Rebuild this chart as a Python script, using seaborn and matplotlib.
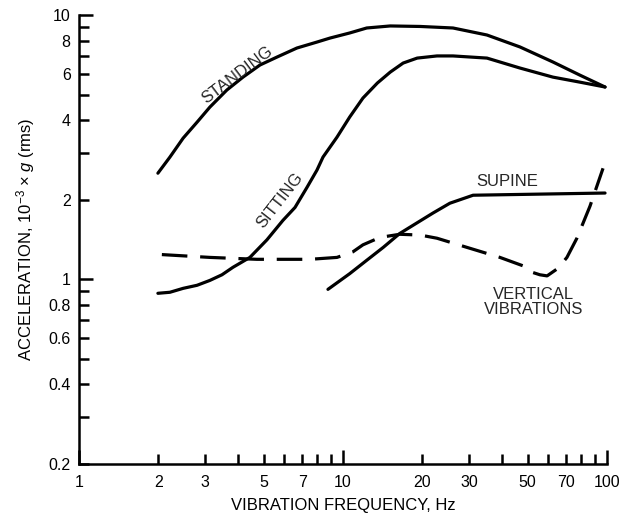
import seaborn as sns
import matplotlib.pyplot as plt
import matplotlib.ticker as mticker

# values (frequency in Hz, acceleration in 1e-3 g rms)
standing_hz = [1.99, 2.21, 2.48, 2.80, 3.13, 3.63, 4.18, 4.85, 5.62, 6.69, 7.97,
               8.93, 10.6, 12.3, 15.1, 19.6, 26.1, 35.1, 46.8, 62.4, 79.0, 98.3]
standing_acc = [2.52, 2.90, 3.42, 3.93, 4.48, 5.20, 5.82, 6.47, 6.93, 7.50, 7.90,
                8.18, 8.55, 8.93, 9.09, 9.05, 8.93, 8.40, 7.57, 6.64, 5.92, 5.34]

sitting_hz = [1.99, 2.21, 2.48, 2.80, 3.13, 3.48, 3.83, 4.44, 5.15, 5.92, 6.58,
              7.31, 7.97, 8.40, 9.49, 10.6, 11.9, 13.5, 15.1, 16.9, 19.1, 22.7,
              26.1, 35.1, 46.8, 62.4, 79.0, 98.3]
sitting_acc = [0.885, 0.893, 0.924, 0.949, 0.99, 1.04, 1.11, 1.21, 1.41, 1.67, 1.87,
               2.23, 2.59, 2.90, 3.45, 4.11, 4.85, 5.53, 6.08, 6.58, 6.87, 7.0,
               7.0, 6.87, 6.30, 5.82, 5.57, 5.34]

supine_hz = [8.77, 10.6, 12.3, 14.2, 16.4, 21.9, 25.4, 31.1, 98.3]
supine_acc = [0.916, 1.05, 1.18, 1.32, 1.49, 1.78, 1.94, 2.08, 2.12]

vertical_hz = [2.06, 3.13, 4.72, 7.50, 9.49, 10.9, 11.9, 13.8, 16.4, 19.6, 22.7,
               29.5, 39.3, 49.8, 52.5, 55.7, 59.3, 65.2, 70.5, 76.9, 86.2, 96.6]
vertical_acc = [1.24, 1.21, 1.19, 1.19, 1.21, 1.27, 1.35, 1.44, 1.48, 1.47, 1.43,
                1.32, 1.21, 1.11, 1.06, 1.04, 1.03, 1.10, 1.21, 1.43, 1.89, 2.63]

x_labeled = [1, 2, 3, 5, 7, 10, 20, 30, 50, 70, 100]
y_labeled = [0.2, 0.4, 0.6, 0.8, 1, 2, 4, 6, 8, 10]

sns.set_theme(style="ticks")
plt.rcParams["font.family"] = ["Liberation Sans", "DejaVu Sans"]
plt.rcParams["mathtext.fontset"] = "custom"
plt.rcParams["mathtext.rm"] = "Liberation Sans"
plt.rcParams["mathtext.it"] = "Liberation Sans:italic"

fig = plt.figure(figsize=(6.2, 5.17), dpi=100)
ax = fig.add_axes([79 / 620, 53 / 517, 528 / 620, 449 / 517])

lw = 2.3
sns.lineplot(x=standing_hz, y=standing_acc, ax=ax, color="black", linewidth=lw)
sns.lineplot(x=sitting_hz, y=sitting_acc, ax=ax, color="black", linewidth=lw)
sns.lineplot(x=supine_hz, y=supine_acc, ax=ax, color="black", linewidth=lw)
sns.lineplot(x=vertical_hz, y=vertical_acc, ax=ax, color="black", linewidth=lw)
ax.lines[-1].set_dashes((8, 4))
for ln in ax.lines:
    ln.set_solid_capstyle("round")
    ln.set_solid_joinstyle("round")

ax.set_xscale("log")
ax.set_yscale("log")
ax.set_xlim(1, 100)
ax.set_ylim(0.2, 10)

# long ticks at decades, short ticks elsewhere
ax.xaxis.set_major_locator(mticker.FixedLocator([1, 10, 100]))
ax.xaxis.set_major_formatter(mticker.FixedFormatter(["1", "10", "100"]))
x_minor = [2, 3, 4, 5, 6, 7, 8, 9, 20, 30, 40, 50, 60, 70, 80, 90]
ax.xaxis.set_minor_locator(mticker.FixedLocator(x_minor))
ax.xaxis.set_minor_formatter(mticker.FixedFormatter(
    [str(v) if v in x_labeled else "" for v in x_minor]))

ax.yaxis.set_major_locator(mticker.FixedLocator([1, 10]))
ax.yaxis.set_major_formatter(mticker.FixedFormatter(["1", "10"]))
y_minor = [0.2, 0.3, 0.4, 0.5, 0.6, 0.7, 0.8, 0.9, 2, 3, 4, 5, 6, 7, 8, 9]
ax.yaxis.set_minor_locator(mticker.FixedLocator(y_minor))
ax.yaxis.set_minor_formatter(mticker.FixedFormatter(
    [f"{v:g}" if v in y_labeled else "" for v in y_minor]))

ax.tick_params(which="both", direction="in", width=1.8, color="black",
               labelsize=11.5, labelcolor="black")
ax.tick_params(which="major", length=10)
ax.tick_params(which="minor", length=7.5)
ax.tick_params(axis="x", which="both", pad=8)
ax.tick_params(axis="y", which="both", pad=6)

sns.despine(ax=ax)
for s in ["left", "bottom"]:
    ax.spines[s].set_linewidth(1.8)
    ax.spines[s].set_color("black")

ax.set_xlabel("VIBRATION FREQUENCY, Hz", fontsize=12, color="black", labelpad=6)
ax.set_ylabel(r"ACCELERATION, 10$^{-3}$ × $g$ (rms)", fontsize=12,
              color="black", labelpad=8)

ax.text(3.97, 5.93, "STANDING", rotation=37, ha="center", va="center", fontsize=12)
ax.text(5.77, 1.99, "SITTING", rotation=52, ha="center", va="center", fontsize=12)
ax.text(41.8, 2.35, "SUPINE", ha="center", va="center", fontsize=12)
ax.text(52.5, 0.818, "VERTICAL\nVIBRATIONS", ha="center", va="center",
        fontsize=12, linespacing=1.0)

fig.savefig("out.png", dpi=100)
